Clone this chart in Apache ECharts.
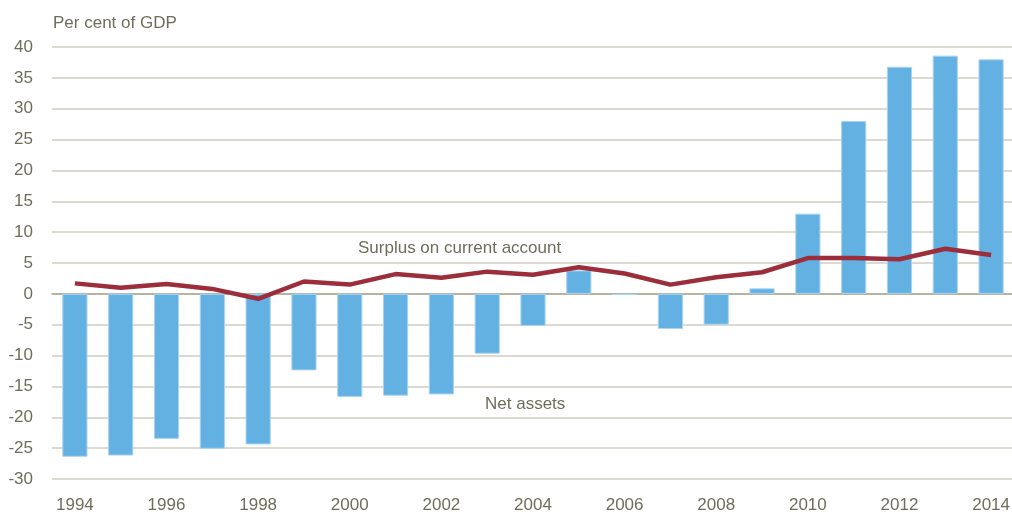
<!DOCTYPE html>
<html>
<head>
<meta charset="utf-8">
<script src="https://cdn.jsdelivr.net/npm/echarts@6/dist/echarts.min.js"></script>
<style>
html,body{margin:0;padding:0;background:#fff;}
#chart{width:1012px;height:519px;}
</style>
</head>
<body>
<div id="chart"></div>
<script>
// years along the x axis
const years = ['1994','1995','1996','1997','1998','1999','2000','2001','2002','2003','2004',
    '2005','2006','2007','2008','2009','2010','2011','2012','2013','2014'];
// net assets, per cent of GDP (bars)
const netAssets = [-26.4,-26.2,-23.5,-25.1,-24.4,-12.4,-16.7,-16.5,-16.3,-9.7,-5.2,
    3.8,-0.2,-5.7,-5.0,0.9,13.0,28.0,36.8,38.6,38.0];
// surplus on current account, per cent of GDP (line)
const surplus = [1.7,1.0,1.6,0.8,-0.8,2.0,1.5,3.2,2.6,3.6,3.1,
    4.3,3.3,1.5,2.7,3.5,5.8,5.8,5.6,7.3,6.3];

const textColor = '#6f6d5c';
const font = '"Liberation Sans",Arial,sans-serif';

const chart = echarts.init(document.getElementById('chart'), null, {renderer:'canvas'});

const option = {
    animation:false,
    grid:{
        left:52,
        top:47,
        width:962,
        height:432,
        outerBoundsMode:'none',
        containLabel:false
    },
    xAxis:[
        {
            // year labels along the bottom
            type:'category',
            data:years,
            position:'bottom',
            axisLine:{show:false, onZero:false},
            axisTick:{show:false},
            axisLabel:{
                interval:1,
                color:textColor,
                fontFamily:font,
                fontSize:17,
                margin:18
            },
            splitLine:{show:false}
        },
        {
            // zero line
            type:'category',
            data:years,
            position:'bottom',
            axisLine:{
                onZero:true,
                lineStyle:{color:'#a9a793', width:1.5}
            },
            axisTick:{show:false},
            axisLabel:{show:false},
            splitLine:{show:false}
        }
    ],
    yAxis:{
        type:'value',
        min:-30,
        max:40,
        interval:5,
        axisLine:{show:false},
        axisTick:{show:false},
        axisLabel:{
            color:textColor,
            fontFamily:font,
            fontSize:17,
            margin:19
        },
        splitLine:{
            lineStyle:{color:'#cfcdc0', width:1.5}
        }
    },
    series:[
        {
            name:'Net assets',
            type:'bar',
            data:netAssets,
            barWidth:'55%',
            itemStyle:{
                color:'#63b0e2',
                borderColor:'#a9d5f2',
                borderWidth:1
            },
            z:2
        },
        {
            name:'Surplus on current account',
            type:'line',
            data:surplus,
            symbol:'none',
            lineStyle:{color:'#9c2d3b', width:4.5},
            z:3
        }
    ],
    graphic:[
        {type:'text', left:53, top:15, style:{text:'Per cent of GDP', fill:textColor, font:'17px ' + font}},
        {type:'text', left:358, top:240, style:{text:'Surplus on current account', fill:textColor, font:'17px ' + font}},
        {type:'text', left:485, top:396, style:{text:'Net assets', fill:textColor, font:'17px ' + font}}
    ]
};

chart.setOption(option);
</script>
</body>
</html>
